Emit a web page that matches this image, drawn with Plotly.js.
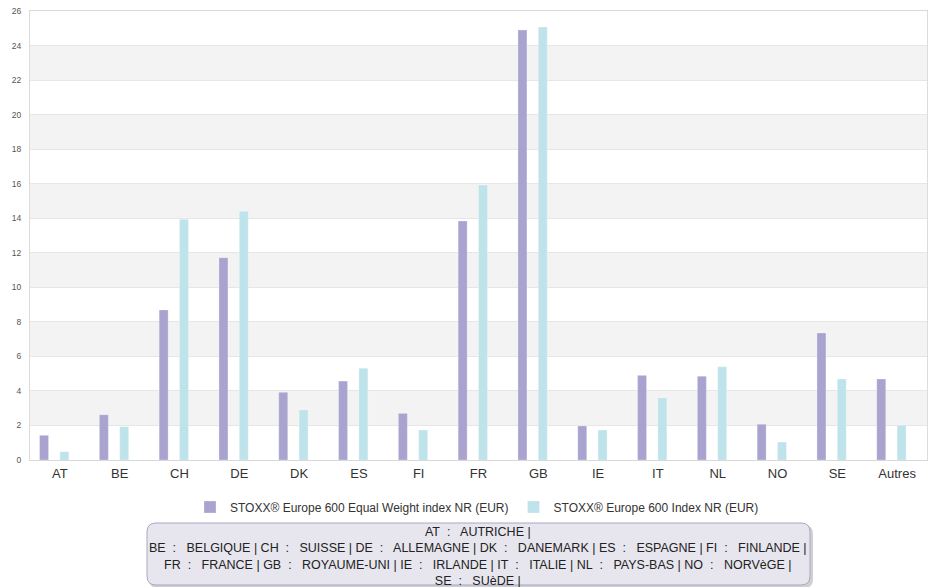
<!DOCTYPE html>
<html>
<head>
<meta charset="utf-8">
<script src="https://cdn.plot.ly/plotly-3.0.1.min.js"></script>
<style>html,body{margin:0;padding:0;background:#fff;}#chart{width:929px;height:587px;}</style>
</head>
<body>
<div id="chart"></div>
<script>
const categories = ["AT","BE","CH","DE","DK","ES","FI","FR","GB","IE","IT","NL","NO","SE","Autres"];
const equalWeight = [1.43,2.62,8.69,11.71,3.92,4.57,2.70,13.84,24.90,1.97,4.90,4.85,2.07,7.35,4.69];
const capWeight   = [0.48,1.93,13.94,14.40,2.90,5.31,1.74,15.92,25.07,1.74,3.59,5.40,1.04,4.69,2.01];
const seriesNames = ["STOXX® Europe 600 Equal Weight index NR (EUR)","STOXX® Europe 600 Index NR (EUR)"];
const yTicks = [0,2,4,6,8,10,12,14,16,18,20,22,24,26];
const S = "\u00a0\u00a0:\u00a0\u00a0 ";
const noteLines = [
  "AT" + S + "AUTRICHE |",
  "BE" + S + "BELGIQUE | CH" + S + "SUISSE | DE" + S + "ALLEMAGNE | DK" + S + "DANEMARK | ES" + S + "ESPAGNE | FI" + S + "FINLANDE |",
  "FR" + S + "FRANCE | GB" + S + "ROYAUME-UNI | IE" + S + "IRLANDE | IT" + S + "ITALIE | NL" + S + "PAYS-BAS | NO" + S + "NORVèGE |",
  "SE" + S + "SUèDE |"
];

const W = 929, H = 587, mL = 30, mR = 2, mT = 11, mB = 127;
const pw = W - mL - mR, ph = H - mT - mB;
const px2x = p => (p - mL) / pw;
const py2y = p => (H - mB - p) / ph;

function roundRect(x0, y0, x1, y1, r) {
  const X = px2x, Y = py2y;
  return `M ${X(x0+r)},${Y(y0)} L ${X(x1-r)},${Y(y0)} Q ${X(x1)},${Y(y0)} ${X(x1)},${Y(y0+r)} ` +
         `L ${X(x1)},${Y(y1-r)} Q ${X(x1)},${Y(y1)} ${X(x1-r)},${Y(y1)} ` +
         `L ${X(x0+r)},${Y(y1)} Q ${X(x0)},${Y(y1)} ${X(x0)},${Y(y1-r)} ` +
         `L ${X(x0)},${Y(y0+r)} Q ${X(x0)},${Y(y0)} ${X(x0+r)},${Y(y0)} Z`;
}

const shapes = [];
for (let i = 0; i + 1 < yTicks.length; i++) {
  if (i % 2 === 1) {
    shapes.push({type:'rect', xref:'paper', yref:'y', x0:0, x1:1, y0:yTicks[i], y1:yTicks[i+1],
      fillcolor:'#f3f3f3', line:{width:0}, layer:'below'});
  }
}
shapes.push({type:'path', xref:'paper', yref:'paper', path: roundRect(149, 525, 813, 588, 9),
  fillcolor:'rgba(120,120,130,0.35)', line:{width:0}});
shapes.push({type:'path', xref:'paper', yref:'paper', path: roundRect(147, 523, 810, 585, 9),
  fillcolor:'#e7e6ee', line:{color:'#a9a7c4', width:1}});

const traces = [
  {type:'bar', x:categories, y:equalWeight, name:seriesNames[0], width:0.15, offset:-0.34,
   marker:{color:'#a8a4cf', line:{color:'rgba(255,255,255,0.5)', width:0.5}}, hoverinfo:'x+y'},
  {type:'bar', x:categories, y:capWeight, name:seriesNames[1], width:0.15, offset:0.0,
   marker:{color:'#bfe3ea', line:{color:'rgba(255,255,255,0.5)', width:0.5}}, hoverinfo:'x+y'}
];

const layout = {
  width: W, height: H,
  margin: {l: mL, r: mR, t: mT, b: mB, pad: 0},
  paper_bgcolor: '#fff', plot_bgcolor: 'rgba(0,0,0,0)',
  barmode: 'overlay',
  font: {family: 'Liberation Sans, Arial, sans-serif', color: '#333'},
  xaxis: {type:'category', range:[-0.5, 14.5], showgrid:false, showline:true, linecolor:'#d8d8d8',
    mirror:true, ticks:'', tickfont:{size:13, color:'#333'}, ticklabelstandoff:1, fixedrange:true},
  yaxis: {range:[0,26], tickvals:yTicks, showgrid:true, gridcolor:'#e6e6e6', gridwidth:1,
    showline:true, linecolor:'#dcdcdc', mirror:true, zeroline:false, ticks:'',
    tickfont:{size:8.5, color:'#555'}, ticklabelstandoff:6, fixedrange:true},
  legend: {orientation:'h', x: px2x(477), xanchor:'center', y: py2y(507), yanchor:'middle',
    font:{size:12, color:'#333'}, itemwidth:30, traceorder:'normal', bgcolor:'rgba(0,0,0,0)'},
  shapes: shapes,
  annotations: [{
    xref:'paper', yref:'paper', x: px2x(478), y: py2y(556), xanchor:'center', yanchor:'middle',
    text: noteLines.join('<br>'), showarrow:false, align:'center',
    font:{size:12.5, color:'#222', family:'Liberation Sans, Arial, sans-serif'}
  }],
  showlegend: true
};

Plotly.newPlot('chart', traces, layout, {displayModeBar:false, staticPlot:true});
</script>
</body>
</html>
